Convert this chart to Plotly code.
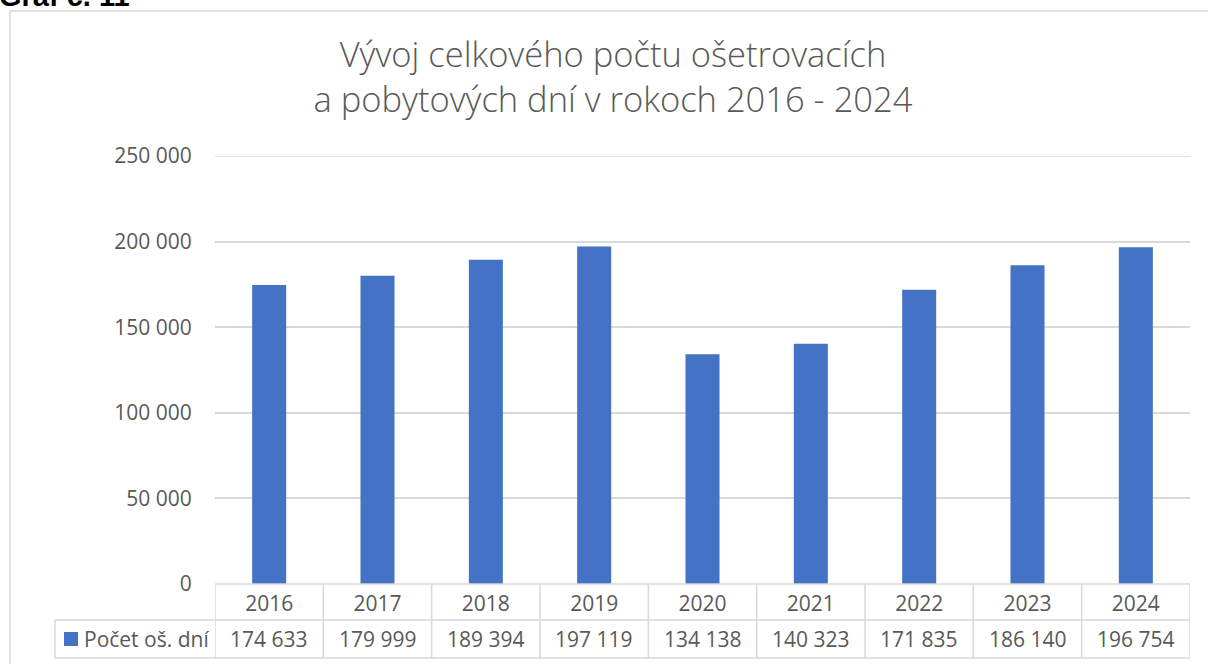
import plotly.graph_objects as go

years = ["2016", "2017", "2018", "2019", "2020", "2021", "2022", "2023", "2024"]
values = [174633, 179999, 189394, 197119, 134138, 140323, 171835, 186140, 196754]
series_name = "Počet oš. dní"
title_text = "Vývoj celkového počtu ošetrovacích<br>a pobytových dní v rokoch 2016 - 2024"
y_ticks = [0, 50000, 100000, 150000, 200000, 250000]

BAR = "#4472C4"
GRID = "#D9D9D9"
TXT = "#595959"
FONT = "Open Sans"

W, H = 1208, 664
ML, MR, MT, MB = 215, 18, 156, 80
PW = W - ML - MR
PH = H - MT - MB


def px_x(x):
    return (x - ML) / PW


def px_y(y):
    return (H - MB - y) / PH


xpos = list(range(len(years)))

fig = go.Figure()
fig.add_trace(go.Bar(x=xpos, y=values, marker=dict(color=BAR, line=dict(width=0)),
                     name=series_name, showlegend=False, width=0.314))

shapes = []
# outer chart border
shapes.append(dict(type="rect", xref="paper", yref="paper",
                   x0=px_x(10), x1=px_x(1230), y0=px_y(700), y1=px_y(11),
                   line=dict(color=GRID, width=1.5), fillcolor="rgba(0,0,0,0)", layer="below"))
# top gridline (at the range edge)
shapes.append(dict(type="line", xref="paper", yref="y", x0=0, x1=1, y0=y_ticks[-1], y1=y_ticks[-1],
                   line=dict(color=GRID, width=1.5), layer="below"))
# table horizontal lines
y_row1, y_row2, y_row3 = px_y(584), px_y(620), px_y(658)
shapes.append(dict(type="line", xref="paper", yref="paper", x0=0, x1=1, y0=y_row1, y1=y_row1,
                   line=dict(color=GRID, width=1.5)))
for yy in (y_row2, y_row3):
    shapes.append(dict(type="line", xref="paper", yref="paper", x0=px_x(55), x1=1, y0=yy, y1=yy,
                       line=dict(color=GRID, width=1.5)))
# table vertical lines at category boundaries
for i in range(len(years) + 1):
    shapes.append(dict(type="line", xref="x", yref="paper", x0=i - 0.5, x1=i - 0.5,
                       y0=y_row3, y1=y_row1, line=dict(color=GRID, width=1.5)))
# legend cell left edge
shapes.append(dict(type="line", xref="paper", yref="paper", x0=px_x(55), x1=px_x(55),
                   y0=y_row3, y1=y_row2, line=dict(color=GRID, width=1.5)))
# legend key square
shapes.append(dict(type="rect", xref="paper", yref="paper", x0=px_x(64), x1=px_x(78),
                   y0=px_y(646), y1=px_y(632), line=dict(width=0), fillcolor=BAR))

annotations = []
row_mid = px_y(639)
for i, v in zip(xpos, values):
    annotations.append(dict(x=i, y=row_mid, xref="x", yref="paper", showarrow=False,
                            text=f"{v:,}".replace(",", " "),
                            font=dict(family=FONT, size=21, color=TXT),
                            xanchor="center", yanchor="middle"))
annotations.append(dict(x=px_x(82), y=row_mid, xref="paper", yref="paper", showarrow=False,
                        text=series_name, font=dict(family=FONT, size=21, color=TXT),
                        xanchor="left", yanchor="middle"))
annotations.append(dict(x=px_x(-3), y=px_y(-4), xref="paper", yref="paper", showarrow=False,
                        text="<b>Graf č. 11</b>", font=dict(family="Liberation Sans", size=29, color="#000000"),
                        xanchor="left", yanchor="middle"))

fig.update_layout(
    width=W, height=H,
    margin=dict(l=ML, r=MR, t=MT, b=MB),
    paper_bgcolor="white", plot_bgcolor="white",
    separators=", ",
    title=dict(text=title_text, x=613 / W, xref="container", xanchor="center",
               y=1 - 67 / H, yref="container", yanchor="top",
               font=dict(family=FONT, size=34.5, color=TXT, weight=300)),
    xaxis=dict(range=[-0.5, len(years) - 0.5], tickvals=xpos, ticktext=years,
               showgrid=False, showline=False, zeroline=False,
               tickfont=dict(family=FONT, size=21, color=TXT), ticks="outside", ticklen=1,
               tickcolor="rgba(0,0,0,0)"),
    yaxis=dict(range=[0, 250000], tickvals=y_ticks, tickformat=",d", showgrid=True,
               gridcolor=GRID, gridwidth=1.5, zeroline=False, showline=False,
               tickfont=dict(family=FONT, size=21, color=TXT), ticks="outside", ticklen=18,
               tickcolor="rgba(0,0,0,0)"),
    shapes=shapes, annotations=annotations,
)

fig.write_html("out.html", config={"displayModeBar": False},
               post_script="document.body.style.margin='0';document.body.style.overflow='hidden';")
